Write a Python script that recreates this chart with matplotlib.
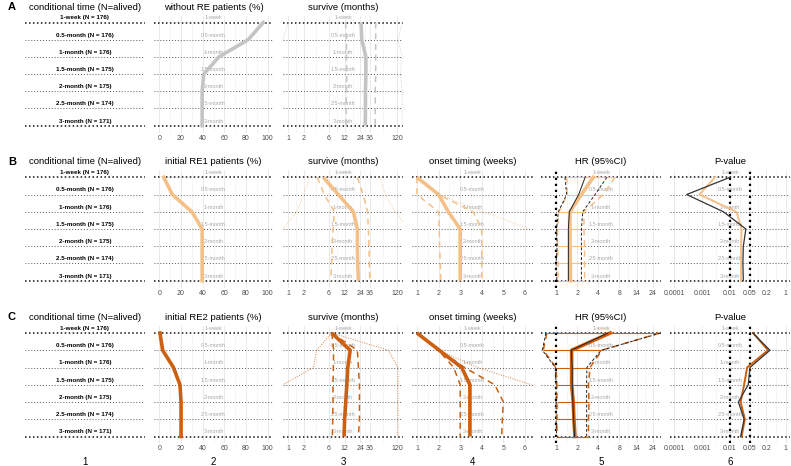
import numpy as np
import matplotlib
matplotlib.use('Agg')
import matplotlib.pyplot as plt
import matplotlib.transforms as mtransforms

plt.rcParams['font.family'] = ['Liberation Sans', 'DejaVu Sans']

nan = np.nan

# ---- data -------------------------------------------------------------
rows = ['1-week', '0.5-month', '1-month', '1.5-month', '2-month', '2.5-month', '3-month']
n_alive = [176, 176, 176, 175, 175, 174, 171]

# panel A
a_without_re = [96, 82, 55, 41, 39.5, 39.5, 39.5]
a_surv = [24.7, 25.5, 30.5, 30.5, 30, 30, 29.6]
a_surv_lo = [12.5, 13, 13, 13.2, 13, 12.8, 12.8]
a_surv_hi = [47, 47, 47, 47, 46, 46, 46]
a_surv_min = [1.0, 0.8, 0.6, 0.82, 0.6, 0.6, 0.6]
a_surv_max = [150, 125, 150, 140, 150, 150, 150]

# panel B (RE1)
b_re1 = [4, 12, 30, 39.5, 39.5, 39.5, 39.5]
b_surv = [4.7, 9.1, 17.6, 21, 21, 21.3, 22]
b_surv_lo = [3.6, 4.9, 7.7, 7.2, 6.9, 6.8, 6.5]
b_surv_hi = [21, 27, 33, 34, 35, 35.5, 36.5]
b_surv_min = [2.6, 2.0, 1.47, 0.78, nan, nan, nan]
b_surv_max = [57, 72, 110, 200, nan, nan, nan]
b_onset = [1.0, 2.0, 2.45, 3.0, 3.0, 3.0, 3.0]
b_onset_lo = [1.0, 1.0, 2.0, 2.03, 2.05, 2.08, 2.1]
b_onset_hi = [1.0, 2.0, 3.6, 4.0, 4.0, 4.0, 4.0]
b_onset_max = [1.0, 2.0, 4.1, 6.2, nan, nan, nan]
b_hr = [3.4, 2.3, 1.58, 1.58, 1.58, 1.6, 1.6]
b_hr_lo = [1.42, 1.45, 1.1, 1.05, 1.05, 1.07, 1.07]
b_hr_hi = [6.9, 4.7, 2.5, 2.5, 2.55, 2.55, 2.55]
b_hr_adj = [2.6, 2.1, 1.55, 1.5, 1.5, 1.5, 1.5]
b_hr_adj_lo = [1.34, 1.42, 1.08, 1.02, 1.04, 1.0, 1.03]
b_hr_adj_hi = [5.3, 3.6, 2.4, 2.3, 2.3, 2.3, 2.3]
b_p = [0.0029, 0.0008, 0.017, 0.026, 0.025, 0.025, 0.025]
b_p_adj = [0.01, 0.00028, 0.0058, 0.037, 0.030, 0.029, 0.030]

# panel C (RE2)
c_re2 = [0.5, 3, 13, 19, 20, 20, 20]
c_surv = [6.8, 15.3, 13.8, 13.2, 12.6, 12, 11.7]
c_surv_lo = [6.8, 7.4, 7.3, 7.2, 7.2, 7.1, 7.0]
c_surv_hi = [6.8, 21, 22, 23, 23, 23, 22]
c_surv_min = [6.8, 3.5, 3.05, 0.8, nan, nan, nan]
c_surv_max = [6.8, 82, 125, 125, 125, 125, 125]
c_onset = [1.0, 2.03, 3.07, 3.45, 3.45, 3.45, 3.45]
c_onset_lo = [1.0, 2.0, 2.7, 3.0, 3.0, 3.0, 3.0]
c_onset_hi = [1.0, 2.05, 3.2, 4.6, 5.0, 4.95, 4.92]
c_onset_max = [1.0, 2.0, 3.8, 6.3, nan, nan, nan]
c_hr = [5.9, 1.67, 1.67, 1.67, 1.76, 1.8, 1.86]
c_hr_lo = [0.74, 0.66, 1.0, 1.03, 1.03, 1.03, 1.03]
c_hr_hi = [30, 4.5, 3.05, 2.9, 2.95, 2.9, 2.9]
c_hr_adj = [5.5, 1.65, 1.7, 1.7, 1.74, 1.78, 1.84]
c_hr_adj_lo = [0.72, 0.64, 0.98, 1.0, 1.0, 1.0, 1.02]
c_hr_adj_hi = [31, 4.4, 2.75, 2.73, 2.73, 2.73, 2.73]
c_p = [0.068, 0.23, 0.041, 0.032, 0.024, 0.034, 0.026]
c_p_adj = [0.065, 0.27, 0.052, 0.045, 0.02, 0.032, 0.024]

# axis scales
pct_ticks = [0, 20, 40, 60, 80, 100]
surv_ticks = [1, 2, 6, 12, 24, 36, 120]
onset_ticks = [1, 2, 3, 4, 5, 6]
hr_ticks = [1, 2, 4, 8, 14, 24]
p_ticks = [0.0001, 0.001, 0.01, 0.05, 0.2, 1]
p_labels = ['0.0001', '0.001', '0.01', '0.05', '0.2', '1']

GREY = '#c4c4c4'
LIGHT = '#f4c088'
DARK = '#cc5f10'

# ---- layout -----------------------------------------------------------
W, H = 791, 466
fig = plt.figure(figsize=(7.91, 4.66), dpi=100)

col_x = [(25, 145), (154, 273), (283, 403), (412, 533), (541, 661), (670, 790)]
panel_rows = {'A': (22.5, 125.7), 'B': (177.3, 280.7), 'C': (333, 436.5)}
title_y = {'A': 7, 'B': 162, 'C': 317}
y = np.arange(1, 8)


def make_ax(col, panel, title):
    x0, x1 = col_x[col]
    r0, r1 = panel_rows[panel]
    step = (r1 - r0) / 6
    top, bot = r0 - 0.4 * step, r1 + 0.4 * step
    ax = fig.add_axes([x0 / W, 1 - bot / H, (x1 - x0) / W, (bot - top) / H])
    ax.set_ylim(7.4, 0.6)
    for s in ax.spines.values():
        s.set_visible(False)
    ax.set_yticks([])
    ax.set_facecolor('none')
    ax.tick_params(axis='x', length=0, labelsize=5, labelcolor='#4d4d4d', pad=1.5)
    fig.text((x0 + x1) / 2 / W, 1 - title_y[panel] / H, title,
             ha='center', va='center', fontsize=6.8)
    return ax


def row_lines(ax, first_col=False):
    tr = mtransforms.blended_transform_factory(ax.transAxes, ax.transData)
    for i, r in enumerate(rows):
        if i in (0, 6):
            ax.axhline(i + 1, color='#111111', lw=1.1, ls=(0, (1, 1.6)), zorder=1)
        else:
            ax.axhline(i + 1, color='#555555', lw=0.7, ls=(0, (1, 2)), zorder=1)
        if first_col:
            ax.text(0.5, i + 1 - 0.27, f'{r} (N = {n_alive[i]})', transform=tr,
                    ha='center', va='center', fontsize=4.5, fontweight='bold', zorder=2)
        else:
            ax.text(0.5, i + 1 - 0.27, r, transform=tr, ha='center', va='center',
                    fontsize=4, color='#a8a8a8', zorder=2)


def scale(ax, kind):
    if kind == 'pct':
        ax.set_xlim(-5, 105)
        majors, labels = pct_ticks, [str(t) for t in pct_ticks]
        minors = [10, 30, 50, 70, 90]
    elif kind == 'onset':
        ax.set_xlim(0.77, 6.37)
        majors, labels = onset_ticks, [str(t) for t in onset_ticks]
        minors = [1.5, 2.5, 3.5, 4.5, 5.5]
    else:
        ax.set_xscale('log')
        if kind == 'surv':
            ax.set_xlim(0.8, 156)
            majors, labels = surv_ticks, [str(t) for t in surv_ticks]
        elif kind == 'hr':
            ax.set_xlim(0.612, 31.2)
            majors, labels = hr_ticks, [str(t) for t in hr_ticks]
        else:
            ax.set_xlim(10 ** -4.15, 10 ** 0.15)
            majors, labels = p_ticks, p_labels
        minors = list(np.sqrt(np.array(majors[:-1]) * np.array(majors[1:])))
    ax.set_xticks(majors)
    ax.set_xticklabels(labels)
    ax.minorticks_off()
    for m in majors:
        ax.axvline(m, color='#e6e6e6', lw=0.6, zorder=0)
    for m in minors:
        ax.axvline(m, color='#f0f0f0', lw=0.4, zorder=0)


def label_col(panel):
    ax = make_ax(0, panel, 'conditional time (N=alived)')
    ax.set_xlim(0, 1)
    ax.set_xticks([])
    row_lines(ax, first_col=True)
    fig.text(12 / W, 1 - title_y[panel] / H, panel, ha='center', va='center',
             fontsize=8, fontweight='bold')


def ci_col(panel, col, kind, title, mid, lo, hi, color, faint=()):
    ax = make_ax(col, panel, title)
    scale(ax, kind)
    row_lines(ax)
    for f in faint:
        ax.plot(f, y, color=color, lw=0.7, ls=(0, (1, 1.5)), alpha=0.8, zorder=2)
    ax.plot(lo, y, color=color, lw=1.1, ls=(0, (4, 3)), zorder=3)
    ax.plot(hi, y, color=color, lw=1.1, ls=(0, (4, 3)), zorder=3)
    ax.plot(mid, y, color=color, lw=2.6, solid_capstyle='butt', zorder=4)
    return ax


def hr_col(panel, mid, lo, hi, adj, adj_lo, adj_hi, color):
    ax = make_ax(4, panel, 'HR (95%CI)')
    scale(ax, 'hr')
    row_lines(ax)
    ax.hlines(y, lo, hi, color=color, lw=0.8, zorder=2)
    ax.axvline(1, color='black', lw=1.6, ls=(0, (1, 1.7)), zorder=2)
    ax.plot(lo, y, color=color, lw=1.1, ls=(0, (4, 3)), zorder=3)
    ax.plot(hi, y, color=color, lw=1.1, ls=(0, (4, 3)), zorder=3)
    ax.plot(mid, y, color=color, lw=2.6, zorder=4)
    ax.plot(adj_lo, y, color='#222222', lw=0.7, ls=(0, (3, 2)), zorder=5)
    ax.plot(adj_hi, y, color='#222222', lw=0.7, ls=(0, (3, 2)), zorder=5)
    ax.plot(adj, y, color='#222222', lw=0.7, zorder=5)


def p_col(panel, p, p_adj, color):
    ax = make_ax(5, panel, 'P-value')
    scale(ax, 'p')
    row_lines(ax)
    ax.axvline(0.01, color='black', lw=1.6, ls=(0, (1, 1.7)), zorder=2)
    ax.axvline(0.05, color='black', lw=1.6, ls=(0, (1, 1.7)), zorder=2)
    ax.plot(p_adj, y, color='#333333', lw=0.9, zorder=4)
    ax.plot(p, y, color=color, lw=1.4, zorder=3)


# ---- panel A ------------------------------------------------------------
label_col('A')
ax = make_ax(1, 'A', 'without RE patients (%)')
scale(ax, 'pct')
row_lines(ax)
ax.plot(a_without_re, y, color=GREY, lw=2.6, zorder=4)
ci_col('A', 2, 'surv', 'survive (months)', a_surv, a_surv_lo, a_surv_hi, GREY,
       faint=(a_surv_min, a_surv_max))

# ---- panel B ------------------------------------------------------------
label_col('B')
ax = make_ax(1, 'B', 'initial RE1 patients (%)')
scale(ax, 'pct')
row_lines(ax)
ax.plot(b_re1, y, color=LIGHT, lw=2.6, zorder=4)
ci_col('B', 2, 'surv', 'survive (months)', b_surv, b_surv_lo, b_surv_hi, LIGHT,
       faint=(b_surv_min, b_surv_max))
ci_col('B', 3, 'onset', 'onset timing (weeks)', b_onset, b_onset_lo, b_onset_hi, LIGHT,
       faint=(b_onset_max,))
hr_col('B', b_hr, b_hr_lo, b_hr_hi, b_hr_adj, b_hr_adj_lo, b_hr_adj_hi, LIGHT)
p_col('B', b_p, b_p_adj, LIGHT)

# ---- panel C ------------------------------------------------------------
label_col('C')
ax = make_ax(1, 'C', 'initial RE2 patients (%)')
scale(ax, 'pct')
row_lines(ax)
ax.plot(c_re2, y, color=DARK, lw=2.6, zorder=4)
ci_col('C', 2, 'surv', 'survive (months)', c_surv, c_surv_lo, c_surv_hi, DARK,
       faint=(c_surv_min, c_surv_max))
ci_col('C', 3, 'onset', 'onset timing (weeks)', c_onset, c_onset_lo, c_onset_hi, DARK,
       faint=(c_onset_max,))
hr_col('C', c_hr, c_hr_lo, c_hr_hi, c_hr_adj, c_hr_adj_lo, c_hr_adj_hi, DARK)
p_col('C', c_p, c_p_adj, DARK)

# column numbers
for i, (x0, x1) in enumerate(col_x):
    fig.text((x0 + x1) / 2 / W, 1 - 461.7 / H, str(i + 1), ha='center', va='center',
             fontsize=7)

fig.savefig('out.png', dpi=100)
